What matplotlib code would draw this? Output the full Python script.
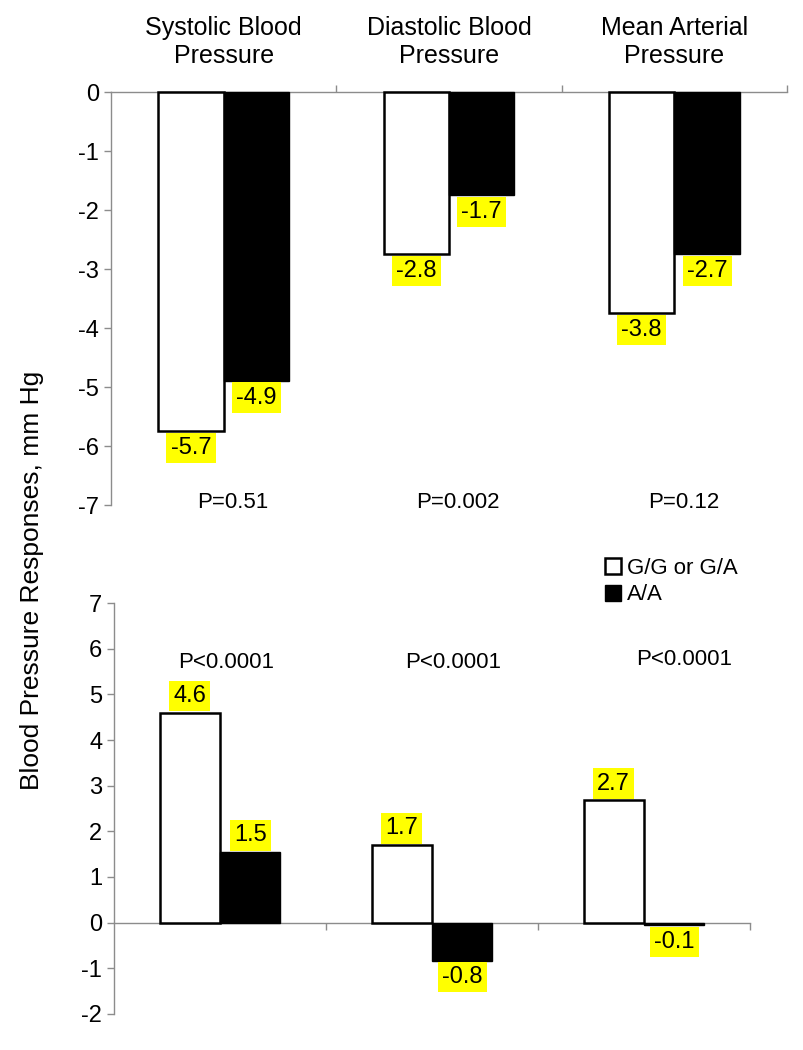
import matplotlib
matplotlib.use("Agg")
import matplotlib.pyplot as plt
from matplotlib.patches import Patch
import numpy as np

plt.rcParams['font.family'] = ['Liberation Sans', 'DejaVu Sans']
plt.rcParams['axes.unicode_minus'] = False

# dati
categories = ["Systolic Blood\nPressure", "Diastolic Blood\nPressure", "Mean Arterial\nPressure"]
groups = ["G/G or G/A", "A/A"]

top_gg = [-5.75, -2.75, -3.75]
top_aa = [-4.9, -1.75, -2.75]
top_gg_lbl = ["-5.7", "-2.8", "-3.8"]
top_aa_lbl = ["-4.9", "-1.7", "-2.7"]
top_p = ["P=0.51", "P=0.002", "P=0.12"]

bot_gg = [4.6, 1.7, 2.68]
bot_aa = [1.55, -0.83, -0.06]
bot_gg_lbl = ["4.6", "1.7", "2.7"]
bot_aa_lbl = ["1.5", "-0.8", "-0.1"]
bot_p = ["P<0.0001", "P<0.0001", "P<0.0001"]

GRAY = "#8c8c8c"
YELLOW = "#ffff00"

fig = plt.figure(figsize=(8.04, 10.5), dpi=100)
ax1 = fig.add_axes([0.138, 0.519, 0.841, 0.3933])
ax2 = fig.add_axes([0.1418, 0.0343, 0.791, 0.3914])

x = np.arange(len(categories))


def draw_bars(ax, gg, aa, w):
    ax.bar(x - w / 2, gg, w, color="white", edgecolor="black", linewidth=1.8, clip_on=False, zorder=3)
    ax.bar(x + w / 2, aa, w, color="black", edgecolor="black", linewidth=1.0, clip_on=False, zorder=3)


def label_bar(ax, xpos, val, txt):
    off = 4 if val >= 0 else -4
    ax.annotate(txt, (xpos, val), xytext=(0, off), textcoords="offset points",
                ha="center", va="bottom" if val >= 0 else "top", fontsize=17,
                bbox=dict(boxstyle="square,pad=0.18", fc=YELLOW, ec="none"), zorder=5)


def style_axes(ax):
    for s in ["left", "top", "bottom"]:
        ax.spines[s].set_color(GRAY)
        ax.spines[s].set_linewidth(1.0)
    ax.spines["right"].set_visible(False)
    ax.tick_params(axis="y", colors=GRAY, labelcolor="black", labelsize=17, length=5, width=1.0, direction="out")
    ax.set_xticks([0.5, 1.5, 2.5])
    ax.set_xlim(-0.5, 2.5)


# pannello superiore (valori negativi)
w1 = 0.29
draw_bars(ax1, top_gg, top_aa, w1)
ax1.set_ylim(-7, 0)
ax1.set_yticks(range(-7, 1))
style_axes(ax1)
ax1.spines["bottom"].set_visible(False)
ax1.xaxis.set_ticks_position("top")
ax1.tick_params(axis="x", colors=GRAY, length=5, width=1.0, labelbottom=False, labeltop=False)
for i in range(3):
    label_bar(ax1, x[i] - w1 / 2, top_gg[i], top_gg_lbl[i])
    label_bar(ax1, x[i] + w1 / 2, top_aa[i], top_aa_lbl[i])
    ax1.text(x[i] + 0.04, -6.96, top_p[i], ha="center", va="center", fontsize=16)

# intestazioni delle categorie
for i, c in enumerate(categories):
    ax1.annotate(c, (x[i], 0), xytext=(0, 17), textcoords="offset points",
                 ha="center", va="bottom", fontsize=18, linespacing=1.25, annotation_clip=False)

# pannello inferiore
w2 = 0.285
draw_bars(ax2, bot_gg, bot_aa, w2)
ax2.set_ylim(-2, 7)
ax2.set_yticks(range(-2, 8))
style_axes(ax2)
ax2.spines["top"].set_visible(False)
ax2.spines["bottom"].set_position(("data", 0))
ax2.xaxis.set_ticks_position("bottom")
ax2.tick_params(axis="x", colors=GRAY, length=5, width=1.0, labelbottom=False, labeltop=False)
p_dx = [0.03, 0.1, 0.19]
p_y = [5.7, 5.7, 5.76]
for i in range(3):
    label_bar(ax2, x[i] - w2 / 2, bot_gg[i], bot_gg_lbl[i])
    label_bar(ax2, x[i] + w2 / 2, bot_aa[i], bot_aa_lbl[i])
    ax2.text(x[i] + p_dx[i], p_y[i], bot_p[i], ha="center", va="center", fontsize=16)

handles = [Patch(facecolor="white", edgecolor="black", linewidth=1.8, label=groups[0]),
           Patch(facecolor="black", edgecolor="black", label=groups[1])]
fig.legend(handles=handles, loc="center left", bbox_to_anchor=(0.752, 0.446),
           frameon=False, fontsize=16, handlelength=0.75, handleheight=0.75,
           handletextpad=0.25, labelspacing=0.25, borderpad=0, borderaxespad=0)

fig.text(0.04, 0.447, "Blood Pressure Responses, mm Hg", rotation=90,
         ha="center", va="center", fontsize=19)

plt.savefig("out.png", dpi=100)
